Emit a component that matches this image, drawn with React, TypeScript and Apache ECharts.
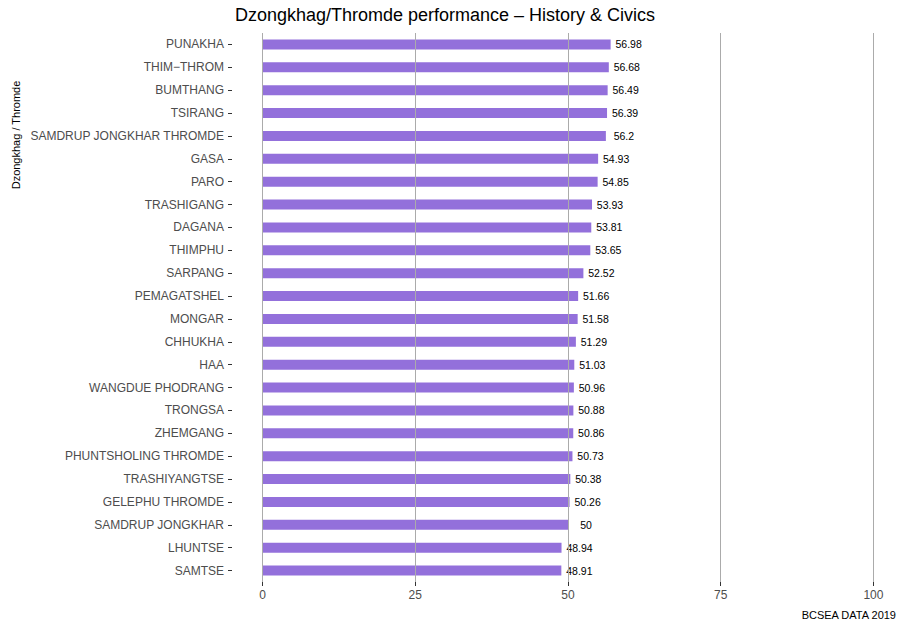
import React, { useEffect, useRef } from "react";
import * as echarts from "echarts";

const categories = [
  "PUNAKHA",
  "THIM−THROM",
  "BUMTHANG",
  "TSIRANG",
  "SAMDRUP JONGKHAR THROMDE",
  "GASA",
  "PARO",
  "TRASHIGANG",
  "DAGANA",
  "THIMPHU",
  "SARPANG",
  "PEMAGATSHEL",
  "MONGAR",
  "CHHUKHA",
  "HAA",
  "WANGDUE PHODRANG",
  "TRONGSA",
  "ZHEMGANG",
  "PHUNTSHOLING THROMDE",
  "TRASHIYANGTSE",
  "GELEPHU THROMDE",
  "SAMDRUP JONGKHAR",
  "LHUNTSE",
  "SAMTSE",
];

const scores = [
  56.98, 56.68, 56.49, 56.39, 56.2, 54.93, 54.85, 53.93, 53.81, 53.65, 52.52,
  51.66, 51.58, 51.29, 51.03, 50.96, 50.88, 50.86, 50.73, 50.38, 50.26, 50,
  48.94, 48.91,
];

const xTicks = [0, 25, 50, 75, 100];
const xRange = [-5, 105];

const titleText = "Dzongkhag/Thromde performance – History & Civics";
const yAxisTitle = "Dzongkhag / Thromde";
const captionText = "BCSEA DATA 2019";

const FONT = "'Liberation Sans', Arial, Helvetica, sans-serif";

export default function App() {
  const ref = useRef<HTMLDivElement>(null);

  useEffect(() => {
    document.body.style.margin = "0";
    if (!ref.current) return;
    const chart = echarts.init(ref.current, null, { renderer: "svg" });
    chart.setOption({
      animation: false,
      backgroundColor: "#ffffff",
      textStyle: { fontFamily: FONT },
      grid: { left: 232, right: 1, top: 33, bottom: 44, containLabel: false },
      xAxis: {
        type: "value",
        min: xRange[0],
        max: xRange[1],
        axisLine: { show: false, onZero: false },
        axisTick: {
          show: true,
          length: 4,
          customValues: xTicks,
          lineStyle: { color: "#333333", width: 1 },
        },
        axisLabel: {
          color: "#4d4d4d",
          fontSize: 12,
          fontFamily: FONT,
          margin: 7,
          customValues: xTicks,
        },
        splitLine: { show: false },
      },
      yAxis: {
        type: "category",
        data: categories,
        inverse: true,
        axisLine: { show: false, onZero: false },
        axisTick: {
          show: true,
          length: 4,
          alignWithLabel: true,
          lineStyle: { color: "#333333", width: 1 },
        },
        axisLabel: { color: "#4d4d4d", fontSize: 12, fontFamily: FONT, margin: 8 },
        splitLine: { show: false },
      },
      series: [
        {
          type: "bar",
          data: scores,
          barWidth: 10,
          itemStyle: { color: "#9370DB" },
          label: {
            show: true,
            position: ["100%", "50%"],
            offset: [18, 0],
            align: "center",
            verticalAlign: "middle",
            color: "#000000",
            fontSize: 10.5,
            fontFamily: FONT,
            formatter: (p: any) => String(p.value),
          },
          markLine: {
            silent: true,
            symbol: "none",
            label: { show: false },
            lineStyle: { color: "#ababab", width: 1, type: "solid" },
            z: 10,
            data: xTicks.map((v) => ({ xAxis: v })),
          },
        },
      ],
      graphic: [
        {
          type: "text",
          x: 445,
          y: 15,
          style: {
            text: titleText,
            fontSize: 18,
            fontFamily: FONT,
            fill: "#000000",
            textAlign: "center",
            textVerticalAlign: "middle",
          },
        },
        {
          type: "text",
          x: 16,
          y: 135,
          rotation: Math.PI / 2,
          style: {
            text: yAxisTitle,
            fontSize: 11,
            fontFamily: FONT,
            fill: "#000000",
            textAlign: "center",
            textVerticalAlign: "middle",
          },
        },
        {
          type: "text",
          x: 896,
          y: 615,
          style: {
            text: captionText,
            fontSize: 11,
            fontFamily: FONT,
            fill: "#000000",
            textAlign: "right",
            textVerticalAlign: "middle",
          },
        },
      ],
    });
    return () => chart.dispose();
  }, []);

  return <div ref={ref} style={{ width: 905, height: 626 }} />;
}
